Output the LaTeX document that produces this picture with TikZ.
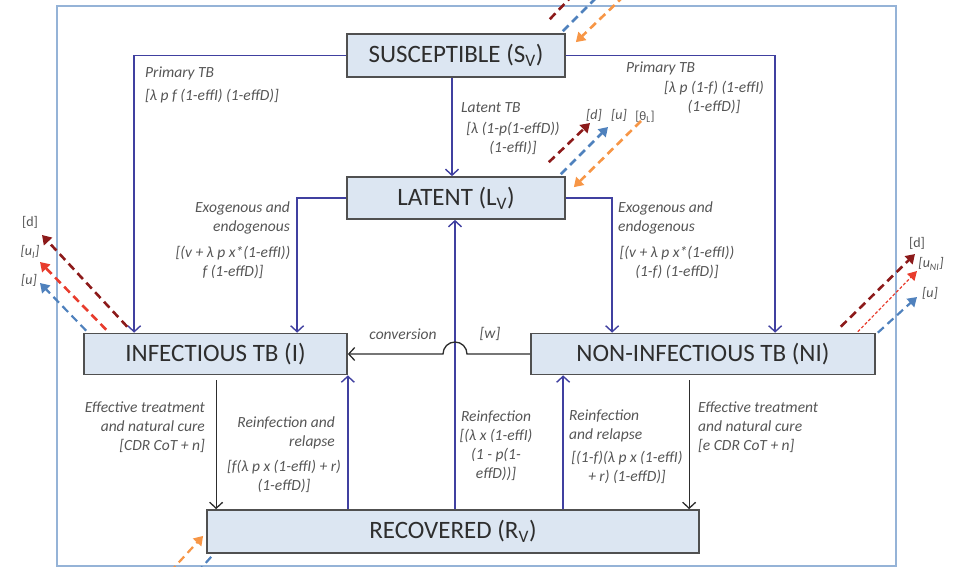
\documentclass[tikz,border=0pt]{standalone}
\usepackage{fontspec}
\setmainfont{Carlito}
\usetikzlibrary{arrows.meta,calc}
\definecolor{framec}{RGB}{149,179,215}
\definecolor{boxfill}{RGB}{220,230,242}
\definecolor{boxdraw}{RGB}{80,80,80}
\definecolor{flowblue}{RGB}{64,64,160}
\definecolor{flowdark}{RGB}{45,45,45}
\definecolor{labgray}{RGB}{85,85,85}
\definecolor{dred}{RGB}{140,26,26}
\definecolor{bred}{RGB}{232,60,45}
\definecolor{dblue}{RGB}{79,129,189}
\definecolor{dorange}{RGB}{247,150,70}
\begin{document}
\begin{tikzpicture}[x=1pt,y=-1pt,
 comp/.style={draw=boxdraw, line width=1.7pt, fill=boxfill, inner sep=0,
   font=\fontsize{25}{30}\selectfont, text=black!82},
 bflow/.style={draw=flowblue, line width=1.5pt,
   -{Straight Barb[length=6pt,width=13pt,line width=1.4pt]}},
 kflow/.style={draw=flowdark, line width=1.3pt,
   -{Straight Barb[length=6pt,width=13pt,line width=1.3pt]}},
 lab/.style={font=\fontsize{15.5}{19}\selectfont\itshape, text=labgray, inner sep=0},
 dlab/.style={font=\fontsize{14}{16}\selectfont, text=labgray, inner sep=0},
 dsh/.style={line width=2.6pt, dash pattern=on 8pt off 5pt,
   -{Triangle[length=9pt,width=11pt]}},
 dshnt/.style={line width=2.6pt, dash pattern=on 8pt off 5pt},
]
\useasboundingbox (0,0) rectangle (961,567);
\clip (0,0) rectangle (961,567);

% frame
\draw[framec, line width=1.6pt] (57,6) rectangle (896,566);

% compartments
\node[comp, minimum width=218pt, minimum height=43pt] (SUS) at (456,55.5) {SUSCEPTIBLE (S\textsubscript{V})};
\node[comp, minimum width=218pt, minimum height=42pt] (LAT) at (456,198) {LATENT (L\textsubscript{V})};
\node[comp, minimum width=263pt, minimum height=41pt] (INF) at (215.5,354) {INFECTIOUS TB (I)};
\node[comp, minimum width=344pt, minimum height=41pt] (NI) at (703,354) {NON-INFECTIOUS TB (NI)};
\node[comp, minimum width=492pt, minimum height=43pt] (REC) at (453,531.5) {RECOVERED (R\textsubscript{V})};

\coordinate (cx) at (455,0);
\coordinate (pI) at ([xshift=51pt]INF.north west);
\coordinate (pN) at ([xshift=245pt]NI.north west);
\coordinate (eI) at ([xshift=214pt]INF.north west);
\coordinate (eN) at ([xshift=82pt]NI.north west);
\coordinate (rN) at ([xshift=33pt]NI.south west);
\coordinate (tI) at ([xshift=133pt,yshift=-5pt]INF.south west);
\coordinate (tN) at ([xshift=159pt,yshift=-5pt]NI.south west);

% blue flows
\draw[bflow] (SUS.west) -| (pI);
\draw[bflow] (SUS.east) -| (pN);
\draw[bflow] ([xshift=-4pt]SUS.south) -- ([xshift=-4pt]LAT.north);
\draw[bflow] (LAT.west) -| (eI);
\draw[bflow] (LAT.east) -| (eN);
\draw[bflow] (REC.north -| cx) -- (LAT.south -| cx);
\draw[bflow] (REC.north -| INF.south east) -- (INF.south east);
\draw[bflow] (REC.north -| rN) -- (rN);

% dark flows
\draw[kflow] (NI.west) -- ([xshift=12pt]cx |- NI.west)
  arc[start angle=0, end angle=180, radius=12pt] -- (INF.east);
\draw[kflow] (tI) -- (REC.north -| tI);
\draw[kflow] (tN) -- (REC.north -| tN);

% dashed arrows: top of SUS
\coordinate (s1) at (572,-4);
\coordinate (s2) at (598,-4);
\coordinate (s3) at (624,-4);
\draw[dshnt, dred] ([shift={(-16pt,14pt)}]SUS.north east) -- (s1);
\draw[dshnt, dblue] ([shift={(-3pt,2pt)}]SUS.north east) -- (s2);
\draw[dsh, dorange] (s3) -- ([shift={(10pt,-9pt)}]SUS.north east);

% dashed arrows: top of LAT
\coordinate (l1) at (590,123);
\coordinate (l2) at (608,127);
\coordinate (l3) at (641,121);
\draw[dsh, dred] ([shift={(-17pt,14pt)}]LAT.north east) -- (l1);
\draw[dsh, dblue] ([shift={(-5pt,2pt)}]LAT.north east) -- (l2);
\draw[dsh, dorange] (l3) -- ([shift={(8pt,-11pt)}]LAT.north east);
\node[dlab, font=\fontsize{14}{16}\selectfont\itshape] (ld) at (594,115) {[d]};
\node[dlab, font=\fontsize{14}{16}\selectfont\itshape] (lu) at (619,115) {[u]};
\node[dlab, font=\fontsize{13}{16}\selectfont] (lt) at (645,117) {[θ\textsubscript{L}]};

% dashed arrows: left of INF
\coordinate (i1) at (42,235);
\coordinate (i2) at (40,262);
\coordinate (i3) at (40,283);
\draw[dsh, dred] ([shift={(44pt,6pt)}]INF.north west) -- (i1);
\draw[dsh, bred] ([shift={(23pt,3pt)}]INF.north west) -- (i2);
\draw[dsh, dblue, line width=2.2pt] ([shift={(3pt,2pt)}]INF.north west) -- (i3);
\node[dlab] (id) at (30,222) {[d]};
\node[dlab, font=\fontsize{14}{16}\selectfont\itshape] (iu1) at (30,252) {[u\textsubscript{I}]};
\node[dlab, font=\fontsize{14}{16}\selectfont\itshape] (iu) at (29,280) {[u]};

% dashed arrows: right of NI
\coordinate (n1) at (915,254);
\coordinate (n2) at (917,271);
\coordinate (n3) at (917,297);
\draw[dsh, dred] ([shift={(-35pt,6pt)}]NI.north east) -- (n1);
\draw[bred, line width=1.2pt, dash pattern=on 3pt off 2pt, -{Triangle[length=9pt,width=10pt]}] ([shift={(-18pt,1pt)}]NI.north east) -- (n2);
\draw[dsh, dblue, line width=2.2pt] ([shift={(2pt,0pt)}]NI.north east) -- (n3);
\node[dlab] (nd) at (917,243) {[d]};
\node[dlab, font=\fontsize{14}{16}\selectfont\itshape] (nu1) at (931,264) {[u\textsubscript{NI}]};
\node[dlab, font=\fontsize{14}{16}\selectfont\itshape] (nu) at (930,293) {[u]};

% dashed arrows: bottom-left of REC
\coordinate (r1) at (170,572);
\coordinate (r2) at (196,574);
\draw[dsh, dorange, line width=2.2pt] (r1) -- ([shift={(-3pt,18pt)}]REC.south west);
\draw[dshnt, dblue, line width=2.2pt] ([shift={(5pt,-3pt)}]REC.south west) -- (r2);

% labels
\node[lab, align=left, anchor=west] (pl) at (145,85) {Primary TB\\[4pt][λ p f (1-effI) (1-effD)]};
\node[lab, anchor=west] (pr1) at (626,68) {Primary TB};
\node[lab, align=center] (pr2) at (714,97) {[λ p (1-f) (1-effI)\\(1-effD)]};
\node[lab, anchor=west] (lt1) at (461,108) {Latent TB};
\node[lab, align=center] (lt2) at (513,138.5) {[λ (1-p(1-effD))\\(1-effI)]};
\node[lab, align=right, anchor=east] (el1) at (290,217.5) {Exogenous and\\endogenous};
\node[lab, align=center] (el2) at (233,262.5) {[(v + λ p x*(1-effI))\\f (1-effD)]};
\node[lab, align=left, anchor=west] (er1) at (618,217.5) {Exogenous and\\endogenous};
\node[lab, align=center] (er2) at (677,262.5) {[(v + λ p x*(1-effI))\\(1-f) (1-effD)]};
\node[lab] (conv) at (403,334) {conversion};
\node[lab] (w) at (490,334) {[w]};
\node[lab, align=right, anchor=east] (tl) at (205,427.5) {Effective treatment\\and natural cure\\{}[CDR CoT + n]};
\node[lab, align=right, anchor=east] (rl1) at (335,432.5) {Reinfection and\\relapse};
\node[lab, align=center] (rl2) at (284,476) {[f(λ p x (1-effI) + r)\\(1-effD)]};
\node[lab, align=center] (rc) at (496,446) {Reinfection\\{}[(λ x (1-effI)\\(1 - p(1-\\effD))]};
\node[lab, align=left, anchor=west] (rr1) at (569,425.5) {Reinfection\\and relapse};
\node[lab, align=center] (rr2) at (627,467.5) {[(1-f)(λ p x (1-effI)\\+ r) (1-effD)]};
\node[lab, align=left, anchor=west] (tr) at (698,427.5) {Effective treatment\\and natural cure\\{}[e CDR CoT + n]};
\end{tikzpicture}
\end{document}
